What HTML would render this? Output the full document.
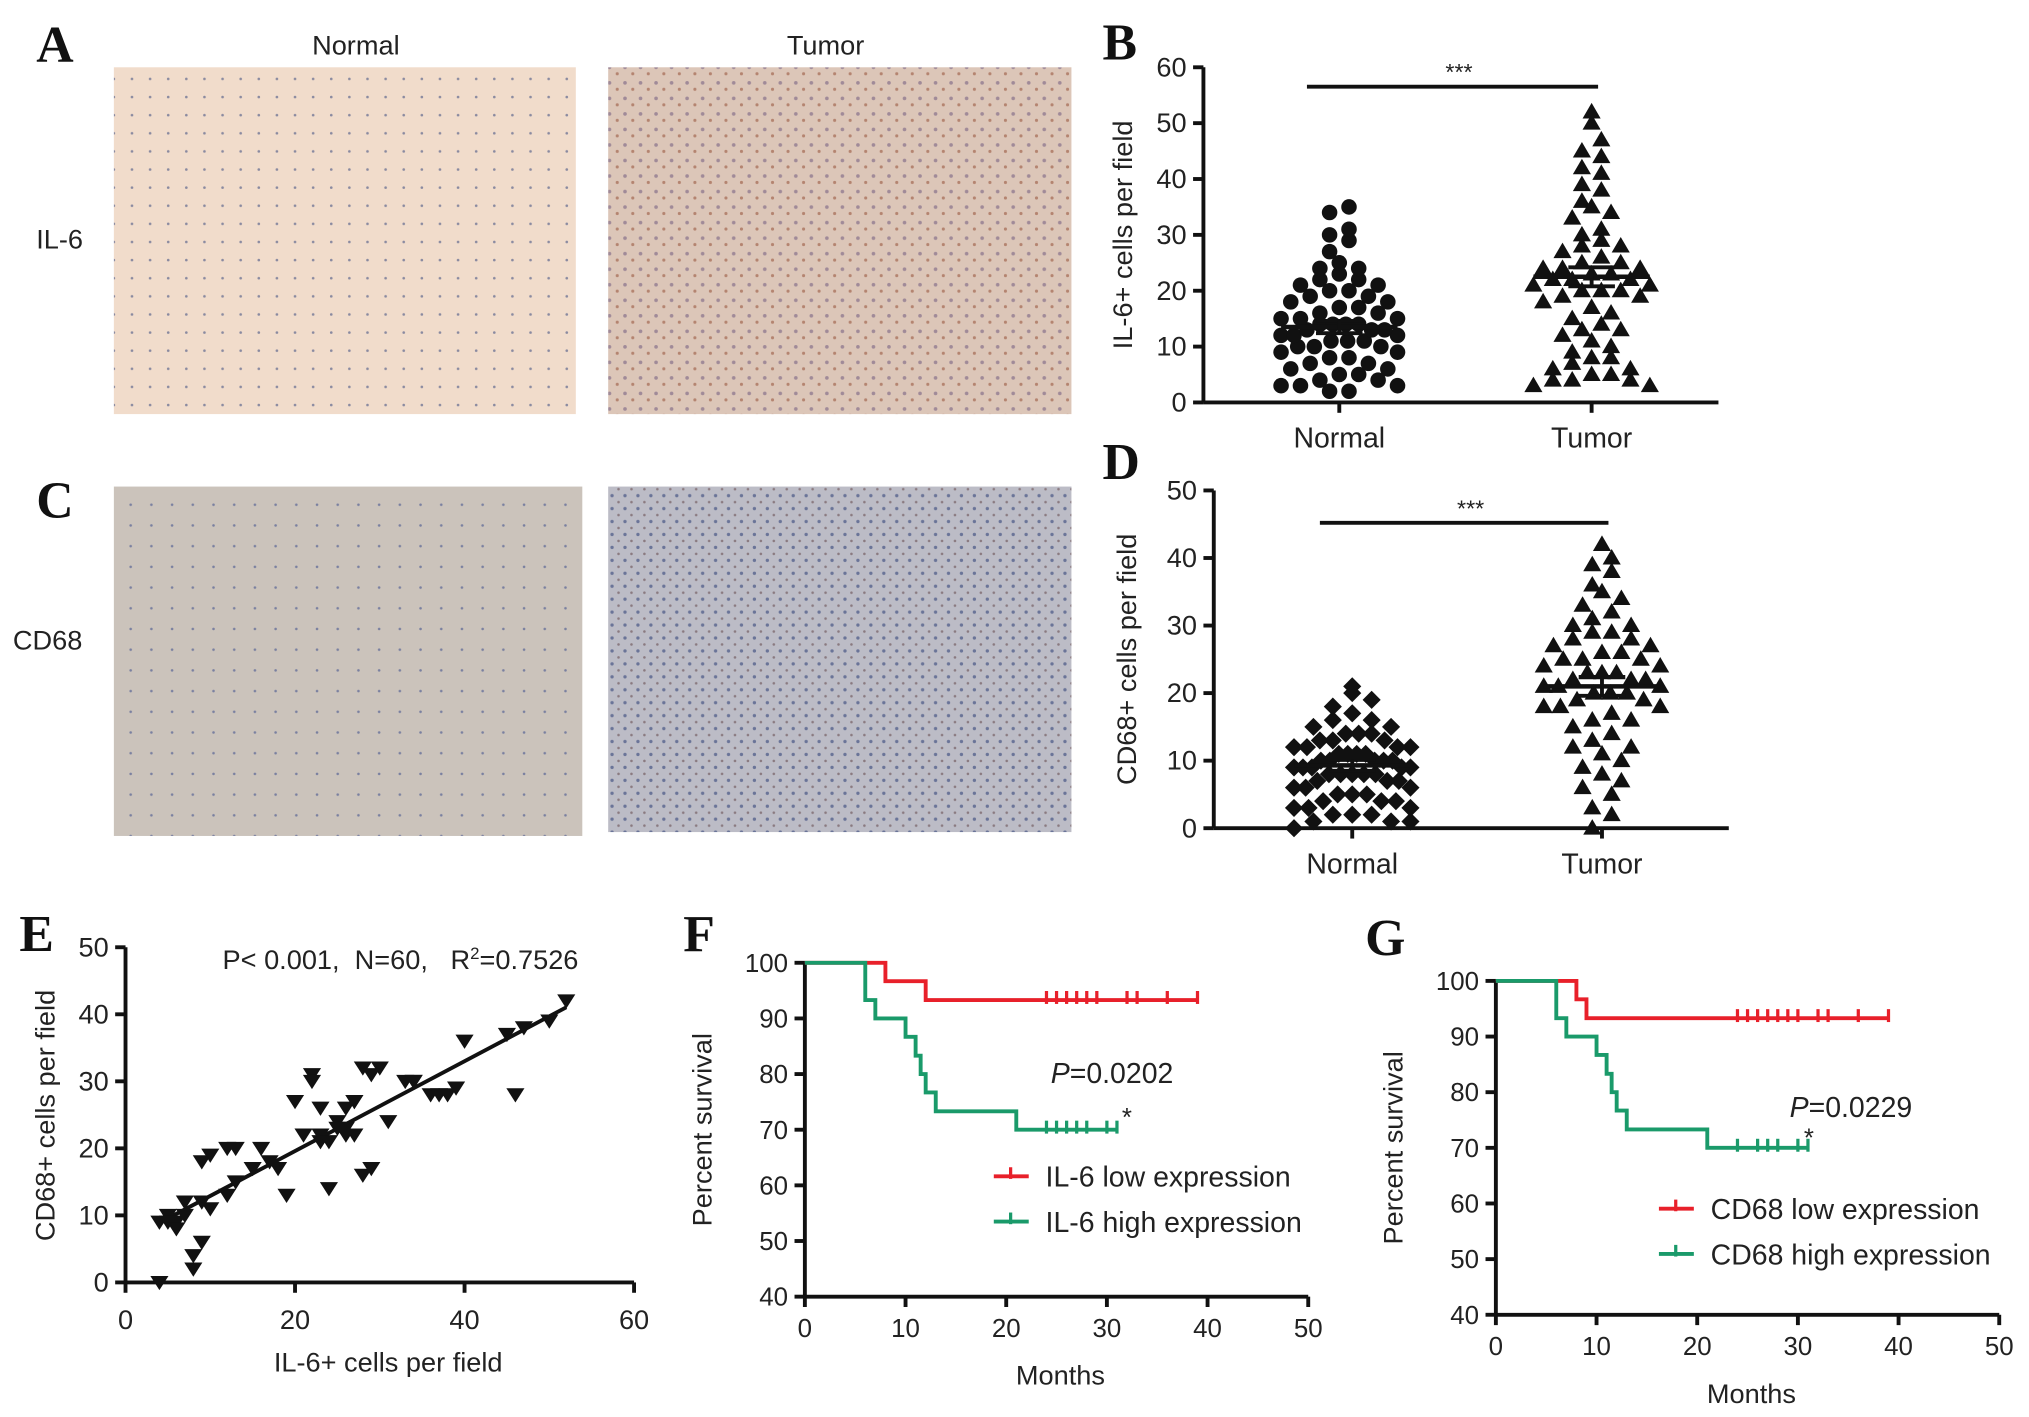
<!DOCTYPE html>
<html><head><meta charset="utf-8"><style>
html,body{margin:0;padding:0;background:#fff;}
svg{display:block;}
text{font-family:"Liberation Sans",sans-serif;fill:#222;white-space:pre;}
.L{font-family:"Liberation Serif",serif;font-weight:bold;font-size:40px;fill:#111;}
</style></head><body>
<svg id="fig" width="2029" height="1417" viewBox="0 0 1568 1095" preserveAspectRatio="none" xmlns="http://www.w3.org/2000/svg">
<defs>
<pattern id="pn" width="14" height="14" patternUnits="userSpaceOnUse"><rect width="14" height="14" fill="#f1dccb"/><circle cx="4" cy="5" r="1" fill="#8a8aa0"/></pattern>
<pattern id="pt" width="12" height="12" patternUnits="userSpaceOnUse"><rect width="12" height="12" fill="#dcc6b8"/><circle cx="3" cy="4" r="1.4" fill="#a08a98"/><circle cx="9" cy="9" r="1.2" fill="#b48470"/></pattern>
<pattern id="cn" width="16" height="16" patternUnits="userSpaceOnUse"><rect width="16" height="16" fill="#cbc3bb"/><circle cx="5" cy="6" r="1" fill="#7a80a0"/></pattern>
<pattern id="ct" width="10" height="10" patternUnits="userSpaceOnUse"><rect width="10" height="10" fill="#bcbcc6"/><circle cx="3" cy="3" r="1.3" fill="#6a7498"/><circle cx="8" cy="8" r="1" fill="#8a7a80"/></pattern>
</defs>
<text class="L" x="28" y="48">A</text>
<text x="275" y="42" font-size="21" text-anchor="middle">Normal</text>
<text x="638" y="42" font-size="21" text-anchor="middle">Tumor</text>
<text x="28" y="192" font-size="21">IL-6</text>
<rect x="88" y="52" width="357" height="268" fill="url(#pn)"/>
<rect x="470" y="52" width="358" height="268" fill="url(#pt)"/>
<text class="L" x="28" y="400">C</text>
<text x="10" y="502" font-size="21">CD68</text>
<rect x="88" y="376" width="362" height="270" fill="url(#cn)"/>
<rect x="470" y="376" width="358" height="267" fill="url(#ct)"/>
<text class="L" x="852" y="46">B</text>
<text class="L" x="852" y="370">D</text>
<text class="L" x="15" y="735">E</text>
<text class="L" x="528" y="735">F</text>
<text class="L" x="1055" y="738">G</text>
<g id="gB"></g><g id="gD"></g><g id="gE"></g><g id="gF"></g><g id="gG"></g>
</svg>
<script>
const bNormal=[35,34,31,30,29,27,25,24,24,23,22,22,21,21,20,20,19,19,18,18,17,17,16,16,15,15,15,14,14,14,13,13,13,12,12,12,11,11,11,10,10,10,9,9,8,8,7,7,6,6,5,5,4,4,3,3,3,2,2,14];
const bTumor=[52,50,47,45,44,42,41,39,38,36,35,34,33,31,30,29,28,27,26,25,25,24,24,23,23,22,22,22,21,21,20,20,19,19,18,17,16,15,14,13,13,12,11,10,9,8,8,7,6,6,5,5,4,4,4,3,3,20,24,28];
const bMeans=[13.5,22.5];const bSem=[1.1,1.7];
const dNormal=[21,20,19,18,17,16,16,15,15,14,14,13,13,13,12,12,12,11,11,11,10,10,10,10,9,9,9,9,8,8,8,8,7,7,7,6,6,6,5,5,5,4,4,4,3,3,3,2,2,2,1,1,1,0,12,10,9,8,11,14];
const dTumor=[42,40,39,38,36,35,34,33,32,31,30,29,28,28,27,27,26,25,25,24,24,23,23,22,22,21,21,20,20,19,19,18,18,17,16,16,15,14,13,12,12,11,10,9,8,7,6,5,3,2,0,25,22,30,26,18,29,20,21,23];
const dMeans=[9.3,21];const dSem=[0.8,1.4];
const groups=["Normal","Tumor"];
const eX=[4,4,5,6,5,6,7,7,8,8,9,9,9,10,10,12,12,13,13,15,16,17,18,19,21,20,22,22,23,24,23,25,25,26,26,27,27,28,27,28,29,30,29,31,33,34,34,36,37,38,39,40,45,47,50,46,52,26,23,24];
const eY=[0,9,10,9,9,8,12,10,2,4,6,12,18,11,19,20,13,20,15,17,20,18,17,13,22,27,31,30,26,14,21,23,24,26,22,27,27,32,22,16,17,32,31,24,30,30,30,28,28,28,29,36,37,38,39,28,42,23,22,21];
const eFit=[0.67,6.2];
const fLowT=[0,8,12,39],fLowS=[100,96.7,93.3,93.3],fLowC=[24,25,26,27,28,29,32,33,36,39];
const fHighT=[0,6,7,10,11,11.5,12,13,21,31],fHighS=[100,93.3,90,86.7,83.3,80,76.7,73.3,70,70],fHighC=[24,25,26,27,28,30,31];
const gLowT=[0,8,9,39],gLowS=[100,96.7,93.3,93.3],gLowC=[24,25,26,27,28,29,30,32,33,36,39];
const gHighT=[0,6,7,10,11,11.5,12,13,21,31],gHighS=[100,93.3,90,86.7,83.3,80,76.7,73.3,70,70],gHighC=[24,26,27,28,30,31];
const NS="http://www.w3.org/2000/svg";
function mk(p,t,a,txt){const e=document.createElementNS(NS,t);for(const k in a)e.setAttribute(k,a[k]);if(txt!==undefined)e.textContent=txt;p.appendChild(e);return e;}
function lin(d0,d1,r0,r1){return v=>r0+(v-d0)*(r1-r0)/(d1-d0);}
function yAxis(g,x,y,ticks,fs,lbl,lx,ymid){
  const l=mk(g,'line',{x1:x,x2:x,y1:y(ticks[ticks.length-1]),y2:y(ticks[0]),stroke:'#111','stroke-width':3});
  
  
  ticks.forEach(t=>{mk(g,'line',{x1:x-8,x2:x,y1:y(t),y2:y(t),stroke:'#111','stroke-width':3});
    const tx=mk(g,'text',{x:x-13,y:y(t)+7,'font-size':fs,'text-anchor':'end'},t);
    
    });
  const tl=mk(g,'text',{x:lx,y:ymid,'font-size':21,'text-anchor':'middle',transform:`rotate(-90 ${lx} ${ymid})`},lbl);
  
  
}
function marker(g,shape,x,y){
  let e;
  if(shape==='c')e=mk(g,'circle',{cx:x,cy:y,r:6,fill:'#111'});
  else if(shape==='t')e=mk(g,'path',{d:`M${x} ${y-7}L${x+7} ${y+5}L${x-7} ${y+5}Z`,fill:'#111'});
  else if(shape==='v')e=mk(g,'path',{d:`M${x-7} ${y-5}L${x+7} ${y-5}L${x} ${y+6}Z`,fill:'#111'});
  else e=mk(g,'path',{d:`M${x} ${y-7}L${x+7} ${y}L${x} ${y+7}L${x-7} ${y}Z`,fill:'#111'});
  
  
}
function swarm(g,vals,cx,y,shape){
  const bins={};
  vals.forEach(v=>{const k=Math.floor(v/3);(bins[k]=bins[k]||[]).push(v);});
  Object.keys(bins).forEach(k=>{const arr=bins[k].sort((a,b)=>a-b);const n=arr.length;
    const sp=n>1?Math.min(15,90/(n-1)):0;
    const order=arr.map((v,j)=>j);
    // interleave so neighbouring values spread left/right
    arr.forEach((v,j)=>{const idx=(j%2===0)?j/2:n-1-(j-1)/2;const off=(idx-(n-1)/2)*sp;marker(g,shape,cx+off,y(v));});});
}
function scatterPanel(id,x0,x1,yTop,yBot,max,ticks,lbl,lx,cx,data,shapes,means,sem,sigY){
  const g=document.getElementById(id);
  const y=lin(0,max,yBot,yTop);
  yAxis(g,x0,y,ticks,21,lbl,lx,(yTop+yBot)/2);
  const xa=mk(g,'line',{x1:x0,x2:x1,y1:yBot,y2:yBot,stroke:'#111','stroke-width':3});
  
  
  cx.forEach((c,i)=>{mk(g,'line',{x1:c,x2:c,y1:yBot,y2:yBot+8,stroke:'#111','stroke-width':3});
    const t=mk(g,'text',{x:c,y:yBot+35,'font-size':22,'text-anchor':'middle'},groups[i]);
    
    
    swarm(g,data[i],c,y,shapes[i]);
    const m=mk(g,'line',{x1:c-45,x2:c+45,y1:y(means[i]),y2:y(means[i]),stroke:'#111','stroke-width':3.5});
    
    
    [1,-1].forEach(s=>mk(g,'line',{x1:c-18,x2:c+18,y1:y(means[i]+s*sem[i]),y2:y(means[i]+s*sem[i]),stroke:'#111','stroke-width':3}));
    mk(g,'line',{x1:c,x2:c,y1:y(means[i]+sem[i]),y2:y(means[i]-sem[i]),stroke:'#111','stroke-width':3});
  });
  const sl=mk(g,'line',{x1:cx[0]-25,x2:cx[1]+5,y1:sigY,y2:sigY,stroke:'#111','stroke-width':3});
  
  
  const st=mk(g,'text',{x:(cx[0]+cx[1])/2-5,y:sigY-5,'font-size':18,'text-anchor':'middle'},'***');
  
  
}
scatterPanel('gB',930,1328,52,311,60,[0,10,20,30,40,50,60],'IL-6+ cells per field',875,[1035,1230],[bNormal,bTumor],['c','t'],bMeans,bSem,67);
scatterPanel('gD',938,1336,379,640,50,[0,10,20,30,40,50],'CD68+ cells per field',878,[1045,1238],[dNormal,dTumor],['d','t'],dMeans,dSem,404);
(function(){const g=document.getElementById('gE');
  const x=lin(0,60,97,490),y=lin(0,50,991,732);
  yAxis(g,97,y,[0,10,20,30,40,50],21,'CD68+ cells per field',42,862);
  const xa=mk(g,'line',{x1:97,x2:490,y1:991,y2:991,stroke:'#111','stroke-width':3});
  
  
  [0,20,40,60].forEach(t=>{mk(g,'line',{x1:x(t),x2:x(t),y1:991,y2:999,stroke:'#111','stroke-width':3});
    const tt=mk(g,'text',{x:x(t),y:1027,'font-size':21,'text-anchor':'middle'},t);
    
    });
  const xt=mk(g,'text',{x:300,y:1060,'font-size':21,'text-anchor':'middle'},'IL-6+ cells per field');
  
  
  const fl=mk(g,'line',{x1:x(5),x2:x(52),y1:y(eFit[0]*5+eFit[1]),y2:y(eFit[0]*52+eFit[1]),stroke:'#111','stroke-width':3});
  
  
  eX.forEach((v,i)=>marker(g,'v',x(v),y(eY[i])));
  const an=mk(g,'text',{x:172,y:749,'font-size':21},'P< 0.001,  N=60,   R');
  
  
  mk(an,'tspan',{'font-size':13,dy:-8},'2');mk(an,'tspan',{dy:8},'=0.7526');
})();
function km(id,x0,x1,yTop,yBot,series,pText,pPos,starPos,legY,legX,legTexts){
  const g=document.getElementById(id);
  const x=lin(0,50,x0,x1),y=lin(40,100,yBot,yTop);
  yAxis(g,x0,y,[40,50,60,70,80,90,100],20,'Percent survival',x0-72,(yTop+yBot)/2);
  const xa=mk(g,'line',{x1:x0,x2:x1,y1:yBot,y2:yBot,stroke:'#111','stroke-width':3});
  
  
  [0,10,20,30,40,50].forEach(t=>{mk(g,'line',{x1:x(t),x2:x(t),y1:yBot,y2:yBot+8,stroke:'#111','stroke-width':3});
    const tt=mk(g,'text',{x:x(t),y:yBot+31,'font-size':20,'text-anchor':'middle'},t);
    
    });
  const xt=mk(g,'text',{x:(x0+x1)/2+3,y:yBot+68,'font-size':21,'text-anchor':'middle'},'Months');
  
  
  series.forEach((s,si)=>{let d=`M${x(s.t[0])} ${y(s.s[0])}`;
    for(let i=1;i<s.t.length;i++){d+=`H${x(s.t[i])}V${y(s.s[i])}`;}
    const p=mk(g,'path',{d:d,fill:'none',stroke:s.c,'stroke-width':3});
    
    
    const fy=s.s[s.s.length-1];
    s.cens.forEach(c=>mk(g,'line',{x1:x(c),x2:x(c),y1:y(fy)-7,y2:y(fy)+3,stroke:s.c,'stroke-width':2.5}));
    const ly=legY[si];
    const ll=mk(g,'line',{x1:legX,x2:legX+27,y1:ly,y2:ly,stroke:s.c,'stroke-width':3});
    
    
    mk(g,'line',{x1:legX+13,x2:legX+13,y1:ly-7,y2:ly+2,stroke:s.c,'stroke-width':2.5});
    const lt=mk(g,'text',{x:legX+40,y:ly+8,'font-size':22},legTexts[si]);
    
    
  });
  const pt=mk(g,'text',{x:pPos[0],y:pPos[1],'font-size':22});
  
  
  mk(pt,'tspan',{'font-style':'italic'},'P');mk(pt,'tspan',{},pText);
  const st=mk(g,'text',{x:starPos[0],y:starPos[1],'font-size':20},'*');
  
  
}
km('gF',622,1011,744,1002,[{t:fLowT,s:fLowS,cens:fLowC,c:'#e8202a'},{t:fHighT,s:fHighS,cens:fHighC,c:'#1a9a6a'}],'=0.0202',[812,837],[867,870],[909,944],768,['IL-6 low expression','IL-6 high expression']);
km('gG',1156,1545,758,1016,[{t:gLowT,s:gLowS,cens:gLowC,c:'#e8202a'},{t:gHighT,s:gHighS,cens:gHighC,c:'#1a9a6a'}],'=0.0229',[1383,863],[1394,886],[934,969],1282,['CD68 low expression','CD68 high expression']);
</script>
</body></html>
